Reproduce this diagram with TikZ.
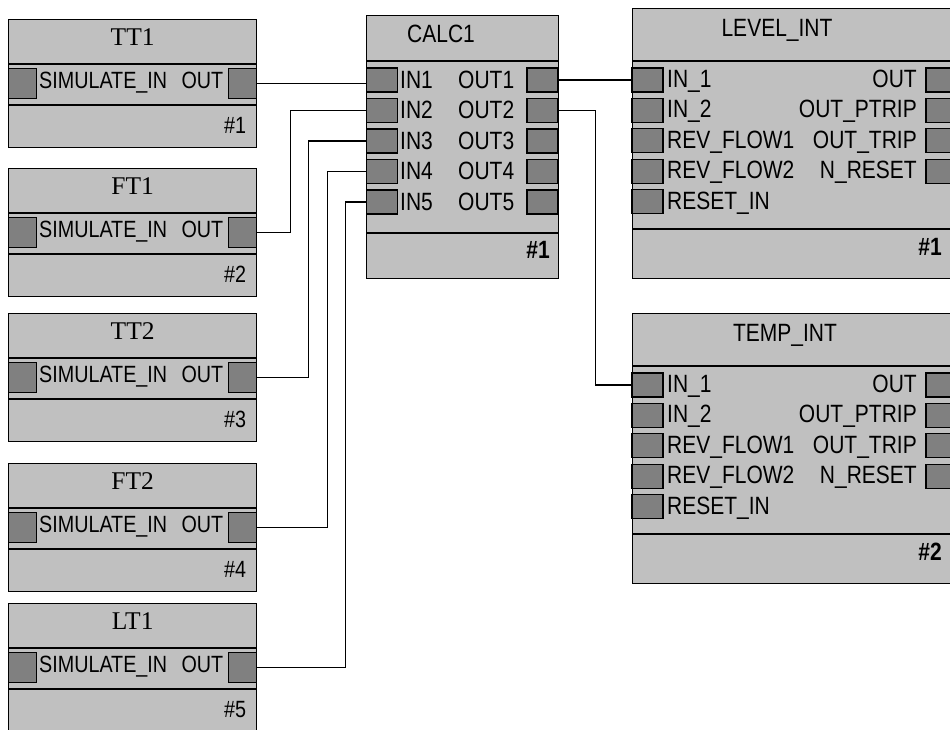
\documentclass[tikz,border=0pt]{standalone}
\usepackage{fontspec}
\setmainfont{Liberation Serif}
\newfontfamily\nsans{Liberation Sans}[FakeStretch=0.84]
\usetikzlibrary{calc}
\definecolor{boxgray}{HTML}{C0C0C0}
\definecolor{portgray}{HTML}{808080}
\tikzset{
  blk/.style={draw=black, line width=1.4pt, fill=boxgray, inner sep=0pt, anchor=north west},
  portbox/.style={draw=black, line width=1.3pt, fill=portgray, inner sep=0pt},
  sepline/.style={line width=1.4pt},
  wire/.style={line width=1.2pt},
  srctitle/.style={font=\fontsize{25.5}{30}\selectfont, anchor=base, inner sep=0pt},
  srclabel/.style={font=\nsans\fontsize{23.5}{27}\selectfont, inner sep=0pt},
  lab/.style={font=\nsans\fontsize{25}{30}\selectfont, inner sep=0pt},
  numlab/.style={font=\nsans\bfseries\fontsize{25}{30}\selectfont, inner sep=0pt, anchor=base east},
}
% source block: name, title, top, number
\newcommand\srcblk[4]{%
  \node[blk, minimum width=248pt, minimum height=128pt] (#1) at (8,#3) {};
  \draw[sepline] ([yshift=-45pt]#1.north west) -- ([yshift=-45pt]#1.north east);
  \draw[sepline] ([yshift=-86pt]#1.north west) -- ([yshift=-86pt]#1.north east);
  \node[srctitle] (#1t) at ([yshift=-26pt]#1.north) {#2};
  \node[portbox, minimum width=28pt, minimum height=30pt, anchor=north west] (#1in) at ([yshift=-49pt]#1.north west) {};
  \node[portbox, minimum width=28pt, minimum height=30pt, anchor=north east] (#1out) at ([yshift=-49pt]#1.north east) {};
  \node[srclabel, anchor=base west] (#1l) at ([xshift=31pt,yshift=-69pt]#1.north west) {SIMULATE\_IN};
  \node[srclabel, anchor=base east] (#1r) at ([xshift=-34pt,yshift=-69pt]#1.north east) {OUT};
  \node[srclabel, anchor=base east] (#1n) at ([xshift=-11pt,yshift=-114pt]#1.north east) {\##4};
}
% interlock block: name, title, top, title centre x, number
\newcommand\intblk[5]{%
  \node[blk, minimum width=326pt, minimum height=270pt] (#1) at (632,#3) {};
  \draw[sepline] ([yshift=-53pt]#1.north west) -- ([yshift=-53pt]#1.north east);
  \draw[sepline] ([yshift=-221pt]#1.north west) -- ([yshift=-221pt]#1.north east);
  \node[lab, anchor=base] (#1t) at (#4,{#3+28}) {#2};
  \foreach \lab [count=\i] in {IN\_1,IN\_2,REV\_FLOW1,REV\_FLOW2,RESET\_IN}{
    \node[portbox, minimum width=31pt, minimum height=24pt] (#1in\i) at (647.5,{#3+72+30.4*(\i-1)}) {};
    \node[lab, anchor=base west] (#1inl\i) at (667,{#3+79.5+30.4*(\i-1)}) {\lab};
  }
  \foreach \lab [count=\i] in {OUT,OUT\_PTRIP,OUT\_TRIP,N\_RESET}{
    \node[portbox, minimum width=31pt, minimum height=24pt] (#1out\i) at (941.5,{#3+72+30.4*(\i-1)}) {};
    \node[lab, anchor=base east] (#1outl\i) at (917,{#3+79.5+30.4*(\i-1)}) {\lab};
  }
  \node[numlab] (#1n) at (942,{#3+247}) {\##5};
}
\begin{document}
\begin{tikzpicture}[x=1pt,y=-1pt]
\useasboundingbox (0,0) rectangle (950,729);
\clip (0,0) rectangle (950,729);
\fill[white] (0,0) rectangle (950,729);

% source blocks
\srcblk{tt1}{TT1}{19}{1}
\srcblk{ft1}{FT1}{168}{2}
\srcblk{tt2}{TT2}{313}{3}
\srcblk{ft2}{FT2}{463}{4}
\srcblk{lt1}{LT1}{603}{5}

% CALC1
\node[blk, minimum width=192pt, minimum height=263pt] (calc) at (366,15) {};
\draw[sepline] ([yshift=-46pt]calc.north west) -- ([yshift=-46pt]calc.north east);
\draw[sepline] ([yshift=-218pt]calc.north west) -- ([yshift=-218pt]calc.north east);
\node[lab, anchor=base west] (calct) at (407,42) {CALC1};
\foreach \i in {1,...,5}{
  \node[portbox, minimum width=31pt, minimum height=24pt] (calcin\i) at (382,{80+30.5*(\i-1)}) {};
  \node[portbox, minimum width=31pt, minimum height=24pt] (calcout\i) at (542.5,{80+30.5*(\i-1)}) {};
  \node[lab, anchor=base west] (calcinl\i) at (400,{88+30.5*(\i-1)}) {IN\i};
  \node[lab, anchor=base west] (calcoutl\i) at (458,{88+30.5*(\i-1)}) {OUT\i};
}
\node[numlab] (calcn) at (550,258) {\#1};

% interlock blocks
\intblk{level}{LEVEL\_INT}{8}{777}{1}
\intblk{temp}{TEMP\_INT}{313}{785}{2}

% connectors
\draw[wire] (tt1out.east) -- (tt1out.east -| calcin1.west);
\draw[wire] (ft1out.east) -- ++(33,0) |- (calcin2.west);
\draw[wire] (tt2out.east) -- ++(51,0) |- (calcin3.west);
\draw[wire] (ft2out.east) -- ++(70,0) |- (calcin4.west);
\draw[wire] (lt1out.east) -- ++(88,0) |- (calcin5.west);
\draw[wire] (calcout1.east) -- (calcout1.east -| levelin1.west);
\draw[wire] (calcout2.east) -- ++(37,0) |- (tempin1.west);
\end{tikzpicture}
\end{document}
